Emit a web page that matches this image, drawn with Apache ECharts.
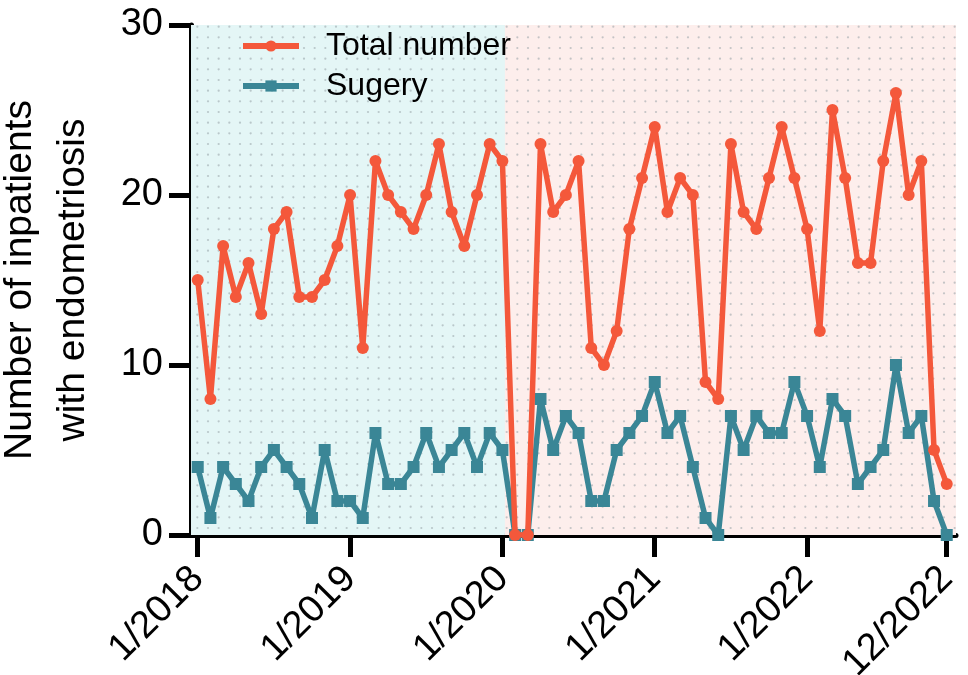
<!DOCTYPE html>
<html>
<head>
<meta charset="utf-8">
<script src="https://cdn.jsdelivr.net/npm/echarts@6/dist/echarts.min.js"></script>
<style>
html,body{margin:0;padding:0;background:#fff;}
#chart{width:968px;height:675px;}
</style>
</head>
<body>
<div id="chart"></div>
<script>
// Month index 0 = 1/2018 ... 59 = 12/2022
const totalNumber = [
  15, 8, 17, 14, 16, 13, 18, 19, 14, 14, 15, 17,
  20, 11, 22, 20, 19, 18, 20, 23, 19, 17, 20, 23,
  22, 0, 0, 23, 19, 20, 22, 11, 10, 12, 18, 21,
  24, 19, 21, 20, 9, 8, 23, 19, 18, 21, 24, 21,
  18, 12, 25, 21, 16, 16, 22, 26, 20, 22, 5, 3
];
const sugery = [
  4, 1, 4, 3, 2, 4, 5, 4, 3, 1, 5, 2,
  2, 1, 6, 3, 3, 4, 6, 4, 5, 6, 4, 6,
  5, 0, 0, 8, 5, 7, 6, 2, 2, 5, 6, 7,
  9, 6, 7, 4, 1, 0, 7, 5, 7, 6, 6, 9,
  7, 4, 8, 7, 3, 4, 5, 10, 6, 7, 2, 0
];
const tickIndices = [0, 12, 24, 36, 48, 59];
const tickLabels = ['1/2018', '1/2019', '1/2020', '1/2021', '1/2022', '12/2022'];
const seriesNames = ['Total number', 'Sugery'];

function makePattern(bg) {
  const c = document.createElement('canvas');
  c.width = 32; c.height = 32;
  const ctx = c.getContext('2d');
  ctx.fillStyle = bg;
  ctx.fillRect(0, 0, 32, 32);
  ctx.fillStyle = 'rgba(150,160,165,0.55)';
  const step = 32 / 3;
  for (let i = 0; i < 3; i++) {
    for (let j = 0; j < 3; j++) {
      ctx.beginPath();
      ctx.arc(step * i + step / 2, step * j + step / 2, 1.1, 0, Math.PI * 2);
      ctx.fill();
    }
  }
  return { image: c, repeat: 'repeat' };
}

const FONT = 'Liberation Sans, Arial, sans-serif';
const RED = '#f4583b';
const TEAL = '#3a8696';

const chart = echarts.init(document.getElementById('chart'), null, { renderer: 'canvas' });

const xMin = -0.53, xMax = 59.73, split = 24.2;

chart.setOption({
  animation: false,
  backgroundColor: '#ffffff',
  grid: { left: 191, right: 12, top: 25, bottom: 140, containLabel: false, outerBoundsMode: 'none' },
  legend: {
    orient: 'vertical',
    left: 235,
    top: 25,
    itemWidth: 56,
    itemHeight: 14,
    itemGap: 8,
    lineStyle: { width: 6 },
    data: [
      { name: seriesNames[0], lineStyle: { color: RED, width: 6 } },
      { name: seriesNames[1], lineStyle: { color: TEAL, width: 6 } }
    ],
    textStyle: { fontFamily: FONT, fontSize: 32, color: '#000', padding: [0, 0, 0, 22] }
  },
  xAxis: {
    type: 'value',
    min: xMin,
    max: xMax,
    splitLine: { show: false },
    axisLine: { show: true, onZero: false, lineStyle: { color: '#000', width: 5 } },
    axisTick: { show: true, length: 22, lineStyle: { color: '#000', width: 5 }, customValues: tickIndices },
    axisLabel: {
      customValues: tickIndices,
      rotate: 45,
      margin: 38,
      fontFamily: FONT,
      fontSize: 38,
      color: '#000',
      formatter: function (v) {
        const i = tickIndices.indexOf(Math.round(v));
        return i >= 0 ? tickLabels[i] : '';
      }
    }
  },
  yAxis: {
    type: 'value',
    min: 0,
    max: 30,
    interval: 10,
    name: 'Number of inpatients\nwith endometriosis',
    nameLocation: 'middle',
    nameRotate: 90,
    nameGap: 91,
    nameTextStyle: { fontFamily: FONT, fontSize: 39, color: '#000', lineHeight: 53 },
    splitLine: { show: false },
    axisLine: { show: true, onZero: false, lineStyle: { color: '#000', width: 5 } },
    axisTick: { show: true, length: 22, lineStyle: { color: '#000', width: 5 } },
    axisLabel: { margin: 28, fontFamily: FONT, fontSize: 38, color: '#000' }
  },
  series: [
    {
      name: seriesNames[0],
      type: 'line',
      data: totalNumber.map((v, i) => [i, v]),
      symbol: 'circle',
      symbolSize: 12,
      lineStyle: { color: RED, width: 5.5 },
      itemStyle: { color: RED },
      z: 3,
      markArea: {
        silent: true,
        data: [
          [{ xAxis: xMin, yAxis: 0, itemStyle: { color: makePattern('#e4f6f6') } },
           { xAxis: split, yAxis: 30 }],
          [{ xAxis: split, yAxis: 0, itemStyle: { color: makePattern('#fdeeec') } },
           { xAxis: xMax, yAxis: 30 }]
        ]
      }
    },
    {
      name: seriesNames[1],
      type: 'line',
      data: sugery.map((v, i) => [i, v]),
      symbol: 'rect',
      symbolSize: 12,
      lineStyle: { color: TEAL, width: 5.5 },
      itemStyle: { color: TEAL },
      z: 2
    }
  ]
});
</script>
</body>
</html>
